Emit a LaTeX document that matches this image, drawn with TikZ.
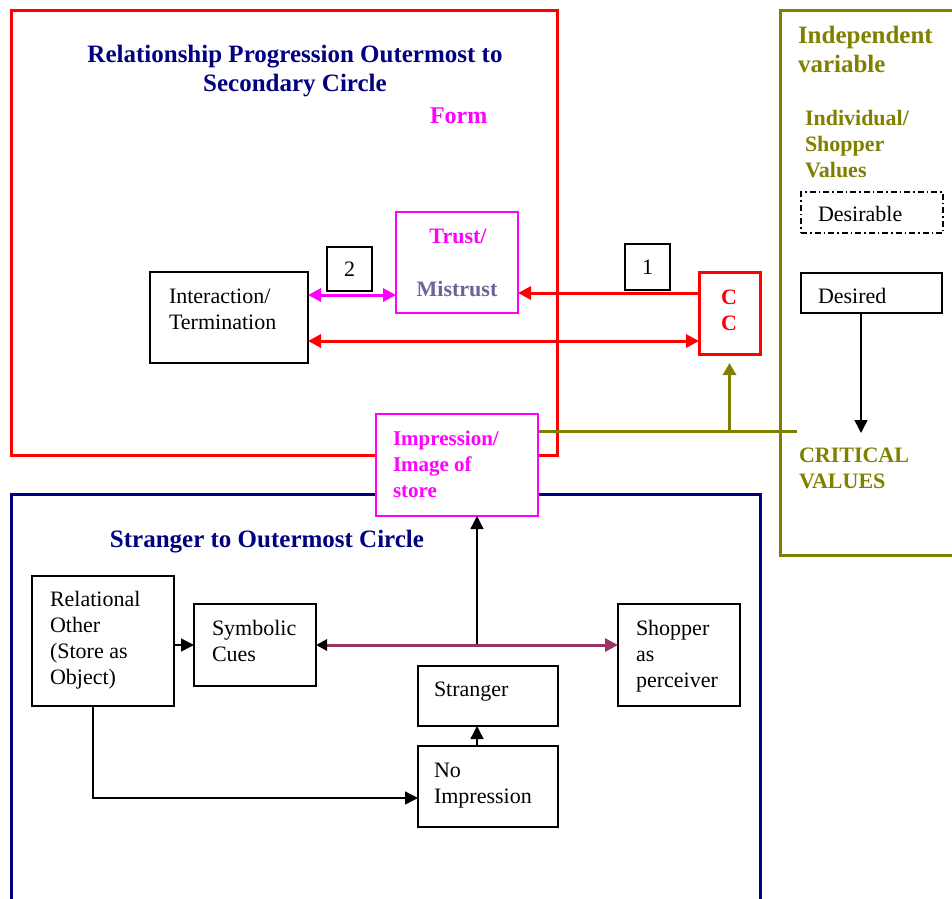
\documentclass[tikz,border=0pt]{standalone}
\usepackage{fontspec}
\setmainfont{Liberation Serif}
\usetikzlibrary{arrows.meta,calc}
\definecolor{navyc}{HTML}{000080}
\definecolor{magc}{HTML}{FF00FF}
\definecolor{slatec}{HTML}{666699}
\definecolor{olivec}{HTML}{808000}
\definecolor{maroonc}{HTML}{993366}
\tikzset{
  btip/.tip={Triangle[length=13pt,width=13pt]},
  stip/.tip={Triangle[length=11pt,width=11pt,color=black]},
}
\begin{document}
\begin{tikzpicture}[x=1pt,y=-1pt,
  every node/.style={font=\fontsize{22}{26}\selectfont, inner sep=0pt, outer sep=0pt},
  box/.style={draw=black, line width=1.4pt, fill=white, rectangle},
  magbox/.style={draw=magc, line width=1.4pt, fill=white, rectangle},
  txt/.style={anchor=base west, align=left},
  head/.style={font=\fontsize{25}{29}\selectfont\bfseries},
  sub/.style={font=\fontsize{22}{26}\selectfont\bfseries},
  thick3/.style={line width=3pt},
]
\useasboundingbox (0,0) rectangle (952,898);

% the three framing regions
\draw[red, thick3] (11,10) rectangle (557,455);
\draw[navyc, thick3] (11,494) rectangle (760,906);
\draw[olivec, thick3] (780,10) rectangle (965,555);

% upper region (multi-line texts are placed by the baseline of their last line)
\node[head, navyc, anchor=base, align=center] (title1) at (295,91)
  {Relationship Progression Outermost to\\Secondary Circle};
\node[magc, font=\fontsize{24}{28}\selectfont\bfseries, txt] (form) at (430,123) {Form};

\node[magbox, minimum width=122pt, minimum height=101pt] (trust) at (457,262.5) {};
\node[sub, magc, anchor=base] (trusttxt) at (458,243) {Trust/};
\node[sub, slatec, anchor=base] (mistrusttxt) at (457,296) {Mistrust};

\node[box, minimum width=45pt, minimum height=44pt] (two) at (349.5,269) {2};
\node[box, minimum width=45pt, minimum height=46pt] (one) at (647.5,267) {1};

\node[box, minimum width=158pt, minimum height=91pt] (inter) at (229,317.5) {};
\node[txt] (intertxt) at (169,329) {Interaction/\\Termination};

\node[draw=red, thick3, fill=white, minimum width=61pt, minimum height=82pt] (cc) at (729.5,313) {};
\node[sub, red, anchor=base, align=center] (cctxt) at (729,330) {C\\C};

% right region
\node[head, olivec, txt] (indep) at (798,72) {Independent\\variable};
\node[sub, olivec, txt] (indiv) at (805,177) {Individual/\\Shopper\\Values};
\node[draw=black, line width=1.4pt, dash pattern=on 6pt off 3pt on 1.5pt off 3pt,
      minimum width=142pt, minimum height=41pt] (desirable) at (872,212.5) {};
\node[txt] (desirabletxt) at (818,221) {Desirable};
\node[box, minimum width=141pt, minimum height=40pt] (desired) at (871.5,293) {};
\node[txt] (desiredtxt) at (818,303) {Desired};
\node[sub, olivec, txt] (critical) at (799,488) {CRITICAL\\VALUES};
\coordinate (crit) at (861,433);
\draw[-{btip}, line width=1.4pt] (desired.south -| crit) -- (crit);

% impression box and olive link to CC
\coordinate (olend) at (797,431);
\draw[olivec, thick3] ($(trust.south)+(81,118)$) -- (olend);
\draw[olivec, thick3, -{Triangle[length=12pt,width=13pt]}, shorten >=9pt]
  (cc.south |- olend) -- (cc.south);
\node[magbox, minimum width=162pt, minimum height=102pt] (impr) at (457,465) {};
\node[magc, font=\fontsize{21}{26}\selectfont\bfseries, txt] (imprtxt) at (393,497)
  {Impression/\\Image of\\store};

% arrows of the upper region
\draw[magc, thick3, {btip}-{btip}] ($(inter.north east)+(0,23)$) -- ($(trust.south west)+(0,-18)$);
\draw[red, thick3, -{btip}] ($(cc.north west)+(0,21)$) -- ($(trust.south east)+(0,-20)$);
\draw[red, thick3, {btip}-{btip}] ($(inter.south east)+(0,-22)$) -- ($(cc.south west)+(0,-13)$);

% lower region
\node[head, navyc, anchor=base] (title2) at (267,547) {Stranger to Outermost Circle};
\node[box, minimum width=142pt, minimum height=130pt] (rel) at (103,641) {};
\node[txt] (reltxt) at (50,684) {Relational\\Other\\(Store as\\Object)};
\node[box, minimum width=122pt, minimum height=82pt] (sym) at (255,645) {};
\node[txt] (symtxt) at (212,661) {Symbolic\\Cues};
\node[box, minimum width=122pt, minimum height=102pt] (shop) at (679,655) {};
\node[txt] (shoptxt) at (636,687) {Shopper\\as\\perceiver};
\node[box, minimum width=140pt, minimum height=60pt] (stranger) at (488,696) {};
\node[txt] (strangertxt) at (434,696) {Stranger};
\node[box, minimum width=140pt, minimum height=81pt] (noimp) at (488,786.5) {};
\node[txt] (noimptxt) at (434,803) {No\\Impression};

\coordinate (hub) at (477,645);
\draw[line width=1.4pt, -{btip}] (hub) -- (hub |- impr.south);
\draw[maroonc, thick3, {stip}-{btip}] (sym.east) -- (shop.west |- sym.east);
\draw[line width=1.4pt, -{btip}] (sym.west -| rel.east) -- (sym.west);
\draw[line width=1.4pt, -{btip}] (noimp.north -| hub) -- (stranger.south -| hub);
\draw[line width=1.4pt, -{btip}] ($(rel.south)+(-10,0)$) |- ($(noimp.north west)+(0,52)$);
\end{tikzpicture}
\end{document}
